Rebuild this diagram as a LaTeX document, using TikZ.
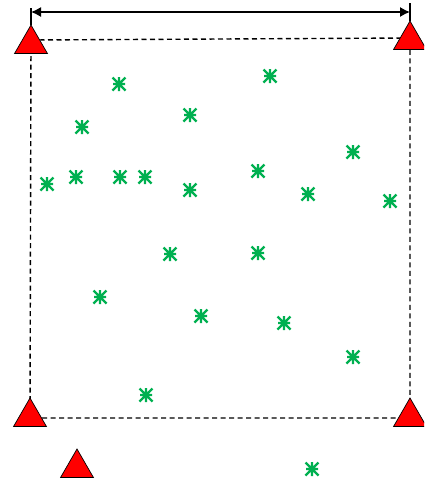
\documentclass[tikz,border=0pt]{standalone}
\usetikzlibrary{shapes.geometric,arrows.meta}
\definecolor{stargreen}{RGB}{0,176,80}
\definecolor{trired}{RGB}{255,0,0}
\tikzset{
  tri/.style={regular polygon, regular polygon sides=3, fill=trired, draw=black,
    line width=0.7pt, inner sep=0pt, outer sep=0pt, minimum size=38pt},
  edge/.style={dashed, line width=1.4pt, dash pattern=on 5pt off 3.5pt},
  dim/.style={line width=1.3pt, {Latex[length=10pt,width=10pt]}-{Latex[length=10pt,width=10pt]}},
  tick/.style={line width=1.1pt},
  gstar/.pic={
    \draw[stargreen, line width=2.2pt] (0,-7) -- (0,7) (-6.5,-6.5) -- (6.5,6.5)
      (-6.5,6.5) -- (6.5,-6.5) (-6,0) -- (6,0);
  }
}
\begin{document}
\begin{tikzpicture}[x=1pt,y=-1pt]
\useasboundingbox (0,0) rectangle (424,485);
\clip (0,0) rectangle (424,485);
% corners of the region
\coordinate (c1) at (31,40);
\coordinate (c2) at (410,38);
\coordinate (c3) at (410,418);
\coordinate (c4) at (30,418);
\coordinate (t1) at (31,8);
\coordinate (t2) at (410,3);
\coordinate (a1) at (31,12);
\coordinate (a2) at (410,12);
\coordinate (b1) at (31,25);
\coordinate (b2) at (410,21);
% dashed boundary
\draw[edge] (c1) -- (c2) -- (c3) -- (c4) -- cycle;
% dimension arrow
\draw[tick] (t1) -- (b1);
\draw[tick] (t2) -- (b2);
\draw[dim] (a1) -- (a2);
% triangles
\node[tri] (tl) at (31,44) {};
\node[tri] (tr) at (410,40) {};
\node[tri] (bl) at (30,417) {};
\node[tri] (br) at (410,417) {};
\node[tri] (bx) at (77,468) {};
% stars
\foreach \x/\y in {119/84, 270/76, 82/127, 190/115, 353/152, 47/184, 76/177,
  120/177, 145/177, 190/190, 258/171, 308/194, 390/201, 170/254, 258/253,
  100/297, 201/316, 284/323, 353/357, 146/395, 312/469}
  \pic at (\x,\y) {gstar};
\end{tikzpicture}
\end{document}
